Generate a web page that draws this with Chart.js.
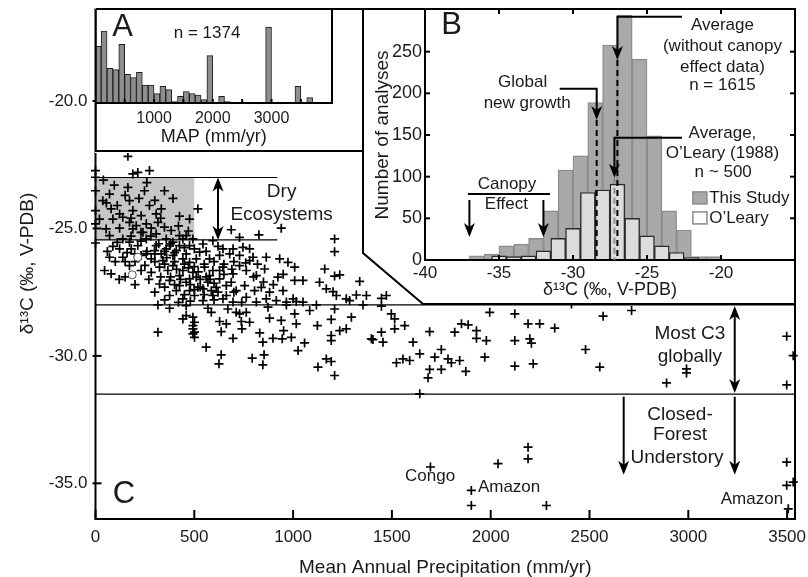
<!DOCTYPE html>
<html>
<head>
<meta charset="utf-8">
<script src="https://cdn.jsdelivr.net/npm/chart.js@4.4.1/dist/chart.umd.min.js"></script>
<style>
  body { margin: 0; background: #fff; }
  #wrap { position: relative; width: 808px; height: 577px; }
  canvas { position: absolute; }
</style>
</head>
<body>
<div id="wrap">
  <canvas id="chartC" width="808" height="577" style="left:0;top:0"></canvas>
  <canvas id="chartA" width="269" height="145" style="left:95px;top:8px"></canvas>
  <canvas id="chartB" width="435" height="298" style="left:362px;top:8px"></canvas>
</div>
<script>
// ---- panel C: sites, [MAP mm/yr, d13C permil] ----
const sitePoints = [
  [164,-22.17],[0,-22.73],[189,-22.86],[214,-22.80],[273,-22.73],[0,-22.99],[0,-23.52],[71,-23.65],[37,-23.91],[164,-23.39],
  [248,-23.52],[349,-23.52],[392,-23.82],[172,-23.91],[220,-23.82],[273,-24.10],[333,-24.23],[518,-24.23],[79,-24.23],[122,-24.43],
  [189,-24.30],[231,-24.50],[307,-24.43],[425,-24.52],[476,-24.63],[0,-24.30],[20,-24.63],[88,-24.63],[138,-24.56],[172,-24.76],
  [206,-24.89],[257,-24.82],[282,-24.99],[316,-24.76],[349,-24.95],[0,-24.82],[54,-25.02],[122,-24.99],[189,-25.02],[240,-25.15],
  [307,-25.21],[383,-25.08],[425,-25.28],[0,-25.57],[71,-25.28],[138,-25.41],[257,-25.41],[358,-25.41],[459,-25.28],[493,-25.41],
  [687,-25.05],[729,-25.35],[827,-25.25],[940,-24.99],[1210,-25.41],[1210,-25.91],[88,-25.70],[172,-25.54],[214,-25.67],[307,-25.67],
  [358,-25.80],[425,-25.67],[476,-25.67],[544,-25.61],[594,-25.48],[645,-25.80],[696,-25.80],[746,-25.74],[780,-25.80],[71,-26.13],
  [138,-26.13],[257,-26.00],[333,-26.00],[392,-26.06],[459,-26.00],[510,-26.19],[577,-26.19],[628,-26.06],[679,-26.00],[729,-26.06],
  [797,-26.13],[864,-26.13],[932,-26.19],[974,-26.33],[1008,-26.52],[1160,-26.59],[1210,-26.87],[1236,-26.82],[1337,-27.08],[46,-26.65],
  [79,-26.78],[172,-26.46],[231,-26.65],[282,-26.72],[324,-26.52],[392,-26.46],[442,-26.65],[493,-26.72],[552,-26.52],[594,-26.65],
  [645,-26.52],[696,-26.78],[763,-26.65],[814,-26.85],[856,-26.59],[923,-26.91],[1008,-27.04],[1050,-27.04],[1134,-27.11],[1168,-27.37],
  [1202,-27.48],[1219,-27.63],[1269,-27.76],[1320,-27.61],[1371,-27.63],[1472,-27.63],[324,-27.18],[375,-27.04],[425,-27.24],[476,-26.98],
  [518,-27.31],[569,-27.11],[611,-27.31],[662,-27.24],[712,-27.44],[755,-27.24],[805,-27.44],[839,-27.31],[881,-27.50],[949,-27.44],
  [1000,-27.76],[1050,-27.89],[375,-27.63],[442,-27.76],[501,-27.63],[544,-27.83],[594,-27.63],[645,-27.76],[696,-27.89],[763,-27.70],
  [814,-27.89],[864,-27.76],[915,-27.83],[966,-27.89],[1016,-27.87],[1286,-27.83],[1447,-27.74],[409,-25.87],[442,-26.19],[476,-26.33],
  [527,-25.93],[425,-26.85],[459,-27.11],[510,-26.91],[544,-27.37],[577,-26.85],[628,-26.98],[662,-27.63],[366,-26.65],[341,-26.26],
  [282,-26.19],[231,-26.06],[181,-25.80],[122,-25.80],[409,-27.44],[476,-27.44],[586,-27.44],[628,-26.65],[687,-27.11],[729,-26.46],
  [780,-26.26],[375,-25.67],[442,-25.41],[392,-25.54],[299,-25.87],[198,-26.00],
  [300,-26.30],[350,-26.40],[400,-26.30],[450,-26.40],[500,-26.50],[550,-26.40],[600,-26.30],[650,-26.40],[330,-26.90],[380,-26.90],
  [430,-27.00],[480,-27.20],[530,-27.00],[580,-27.00],[620,-27.50],[350,-27.30],[400,-27.20],[450,-27.60],[500,-27.40],[550,-27.60],
  [600,-27.80],[700,-27.50],[740,-27.90],[260,-25.90],[300,-26.00],[350,-25.90],[400,-25.95],[450,-25.75],[500,-25.80],[560,-25.90],
  [620,-25.70],[250,-26.45],[200,-26.30],[160,-25.95],[270,-27.00],[300,-27.50],[520,-26.70],[470,-26.55],[410,-26.60],[360,-26.15],
  [320,-25.60],[230,-25.50],[280,-25.30],[180,-25.30],[110,-25.55],[60,-25.90],[100,-26.30],[150,-26.30],[800,-26.90],[850,-27.10],
  [900,-27.20],[950,-26.80],[700,-26.30],[760,-26.35],[820,-26.40],[650,-26.80],[690,-26.60],[560,-26.90],[600,-27.15],[350,-27.80],
  [420,-27.90],[480,-27.85],[530,-27.30],[150,-26.90],[200,-27.20],[120,-27.00],[230,-25.15],[180,-24.60],[110,-24.10],[150,-23.70],
  [300,-23.90],[330,-24.60],[420,-24.90],[380,-25.60],[470,-25.10],[55,-24.00],[95,-23.30],[260,-23.20],[40,-23.10],
  [316,-28.00],[375,-28.13],[459,-28.03],[569,-28.13],[586,-28.29],[670,-28.16],[712,-28.29],[763,-28.29],[873,-28.09],[966,-28.00],
  [1084,-28.22],[1118,-28.00],[1210,-28.16],[1354,-28.00],[1447,-28.05],[442,-28.55],[459,-28.42],[493,-28.48],[501,-28.68],[628,-28.65],
  [662,-28.74],[738,-28.65],[780,-28.68],[729,-28.35],[881,-28.52],[940,-28.61],[1008,-28.35],[1016,-28.74],[1123,-28.81],[1193,-28.57],
  [1295,-28.48],[1497,-28.35],[1514,-28.55],[316,-29.07],[493,-28.94],[493,-29.14],[501,-29.27],[493,-28.81],[501,-29.07],[636,-29.05],
  [696,-29.31],[741,-28.94],[831,-29.10],[847,-29.46],[898,-29.31],[945,-29.33],[952,-29.01],[991,-29.27],[1058,-29.49],[1193,-29.20],
  [1193,-29.40],[1236,-29.01],[1269,-28.94],[1396,-29.33],[1404,-29.36],[1447,-29.07],[1455,-29.46],[1514,-28.94],[1565,-28.81],[1607,-29.46],
  [1691,-29.05],[1818,-29.07],[1852,-28.74],[1886,-28.78],[1928,-29.01],[1928,-29.31],[560,-29.66],[636,-29.96],[625,-30.31],[793,-30.09],
  [853,-29.96],[847,-30.35],[1025,-29.79],[1126,-30.44],[1168,-30.12],[1193,-30.22],[1210,-30.77],[1523,-30.27],[1556,-30.12],[1590,-30.18],
  [1641,-29.92],[1683,-30.86],[1691,-30.53],[1717,-30.05],[1750,-29.75],[1750,-30.53],[1784,-30.12],[1801,-30.27],[1843,-30.18],[1874,-30.61],
  [1641,-31.49],[1695,-34.36],[1902,-35.28],[1902,-35.87],
  [1995,-28.29],[2122,-28.35],[2189,-28.74],[2248,-28.74],[2324,-28.91],[2569,-28.44],[2713,-28.22],[2409,-27.96],[1978,-29.40],[2122,-29.40],
  [2198,-29.33],[2206,-29.50],[1970,-30.05],[2122,-30.40],[2215,-30.31],[2480,-29.75],[2552,-30.44],[2890,-31.06],[2991,-30.51],[2991,-30.67],
  [3498,-29.23],[3531,-29.99],[3498,-31.14],[2037,-34.23],[2189,-33.58],[2189,-34.04],[2282,-35.87],[3498,-34.17],[3498,-35.08],[3531,-34.95],
  [3506,-36.00]
];
const openSites = [[214,-26.13],[186,-26.82]];
const dryBand = [-23, -25.45];
const dryMapMax = 500;
const c3Band = [-28, -31.5];
const mainXTicks = [0, 500, 1000, 1500, 2000, 2500, 3000, 3500];
const mainYTicks = [-35, -30, -25, -20];

// ---- panel A: MAP histogram, 100 mm bins from 0 ----
const mapBinWidth = 100;
const mapCounts = [85,108,52,50,88,43,38,46,27,27,14,25,20,2,10,17,14,12,5,71,0,10,2,0,0,0,0,0,0,114,0,0,0,0,25,0,8];
const aLabelTicks = [1000, 2000, 3000];
const aMarkTicks = [500, 1000, 1500, 2000, 2500, 3000, 3500];

// ---- panel B: d13C histograms ----
const studyBins = [-36.5,-35.5,-34.5,-33.5,-32.5,-31.5,-30.5,-29.5,-28.5,-27.5,-26.5,-25.5,-24.5,-23.5,-22.5,-21.5,-20.5];
const studyCounts = [5,7,17,19,26,59,108,125,189,258,294,241,149,59,36,4,4];
const olearyBins = [-35,-34,-33,-32,-31,-30,-29,-28,-27,-26,-25,-24,-23,-22];
const olearyCounts = [5,4,5,11,26,38,81,84,91,50,29,17,9,3];
const bXTicks = [-40, -35, -30, -25, -20];
const bYTicks = [0, 50, 100, 150, 200, 250];
const avgStudy = -27.0, avgOleary = -27.2, globalNew = -28.4;

const FONT = "'Liberation Sans', Arial, Helvetica, sans-serif";
Chart.defaults.font.family = FONT;
Chart.defaults.color = '#1a1a1a';

function txt(ctx, s, x, y, size, align) {
  ctx.font = size + 'px ' + FONT;
  ctx.textAlign = align || 'center';
  ctx.textBaseline = 'middle';
  ctx.fillStyle = '#1a1a1a';
  ctx.fillText(s, x, y);
}
function line(ctx, pts, w, dash, color) {
  ctx.beginPath();
  ctx.lineWidth = w;
  ctx.strokeStyle = color || '#000';
  ctx.setLineDash(dash || []);
  pts.forEach((p, i) => i ? ctx.lineTo(p[0], p[1]) : ctx.moveTo(p[0], p[1]));
  ctx.stroke();
  ctx.setLineDash([]);
}
// arrow head with its tip at (x, y)
function head(ctx, x, y, up) {
  const s = up ? -1 : 1;
  ctx.beginPath();
  ctx.moveTo(x, y);
  ctx.lineTo(x - 5.5, y - s * 14);
  ctx.lineTo(x, y - s * 10);
  ctx.lineTo(x + 5.5, y - s * 14);
  ctx.closePath();
  ctx.fillStyle = '#000';
  ctx.fill();
}
// keep tick labels from moving the plot edges
const noPadX = s => { s.paddingLeft = 0; s.paddingRight = 0; };
const noPadY = s => { s.paddingTop = 0; s.paddingBottom = 0; };

// ---------- panel C ----------
const decoC = {
  id: 'decoC',
  beforeDatasetsDraw(chart) {
    const {ctx, chartArea: a, scales: {x, y}} = chart;
    ctx.save();
    const x0 = x.getPixelForValue(0), x1 = x.getPixelForValue(dryMapMax), xe = x.getPixelForValue(920);
    const y0 = y.getPixelForValue(dryBand[0]), y1 = y.getPixelForValue(dryBand[1]);
    ctx.fillStyle = '#c6c6c6';
    ctx.fillRect(x0, y0, x1 - x0, y1 - y0);
    line(ctx, [[x0, y0], [xe, y0]], 1.2);
    line(ctx, [[x0, y1], [xe, y1]], 1.2);
    c3Band.forEach(v => {
      const yy = y.getPixelForValue(v);
      line(ctx, [[a.left, yy], [a.right, yy]], 1.2);
    });
    ctx.restore();
  },
  afterDatasetsDraw(chart) {
    const {ctx, chartArea: a, scales: {x, y}} = chart;
    ctx.save();
    // frame and ticks
    line(ctx, [[a.left, a.top], [a.left, a.bottom], [a.right, a.bottom], [a.right, a.top]], 2);
    mainXTicks.forEach(v => {
      const px = x.getPixelForValue(v);
      line(ctx, [[px, a.bottom], [px, a.bottom - 9]], 2);
    });
    mainYTicks.forEach(v => {
      const py = y.getPixelForValue(v);
      line(ctx, [[a.left - 3, py], [a.left + 6, py]], 2);
    });
    // dry ecosystems
    const xd = x.getPixelForValue(620);
    const yd0 = y.getPixelForValue(dryBand[0]), yd1 = y.getPixelForValue(dryBand[1]);
    line(ctx, [[xd, yd0 + 4], [xd, yd1 - 4]], 2);
    head(ctx, xd, yd0, true);
    head(ctx, xd, yd1, false);
    txt(ctx, 'Dry', x.getPixelForValue(942), y.getPixelForValue(-23.56), 19);
    txt(ctx, 'Ecosystems', x.getPixelForValue(942), y.getPixelForValue(-24.46), 19);
    // most C3 globally
    const xc = x.getPixelForValue(3235);
    const yc0 = y.getPixelForValue(c3Band[0]), yc1 = y.getPixelForValue(c3Band[1]);
    line(ctx, [[xc, yc0 + 4], [xc, yc1 - 4]], 2);
    head(ctx, xc, yc0 + 1, true);
    head(ctx, xc, yc1 - 1, false);
    txt(ctx, 'Most C3', x.getPixelForValue(3008), y.getPixelForValue(-29.13), 19);
    txt(ctx, 'globally', x.getPixelForValue(3008), y.getPixelForValue(-30.04), 19);
    // closed-forest understory
    const yf0 = y.getPixelForValue(-31.6), yf1 = y.getPixelForValue(-34.66);
    [2673, 3235].forEach(v => {
      const px = x.getPixelForValue(v);
      line(ctx, [[px, yf0], [px, yf1 - 4]], 2);
      head(ctx, px, yf1, false);
    });
    txt(ctx, 'Closed-', x.getPixelForValue(2958), y.getPixelForValue(-32.31), 19);
    txt(ctx, 'Forest', x.getPixelForValue(2958), y.getPixelForValue(-33.1), 19);
    txt(ctx, 'Understory', x.getPixelForValue(2943), y.getPixelForValue(-34.0), 19);
    txt(ctx, 'Congo', x.getPixelForValue(1693), y.getPixelForValue(-34.74), 17);
    txt(ctx, 'Amazon', x.getPixelForValue(2093), y.getPixelForValue(-35.17), 17);
    txt(ctx, 'Amazon', x.getPixelForValue(3322), y.getPixelForValue(-35.64), 17);
    txt(ctx, 'C', x.getPixelForValue(144), y.getPixelForValue(-35.45), 31);
    ctx.restore();
  }
};

new Chart('chartC', {
  type: 'scatter',
  data: {
    datasets: [
      {
        data: openSites.map(p => ({x: p[0], y: p[1]})),
        pointStyle: 'circle', pointRadius: 4, pointBackgroundColor: '#fff',
        pointBorderColor: '#555', pointBorderWidth: 1, clip: false
      },
      {
        data: sitePoints.map(p => ({x: p[0], y: p[1]})),
        pointStyle: 'cross', pointRadius: 4.5, pointBorderColor: '#000',
        pointBorderWidth: 1.7, clip: false
      }
    ]
  },
  options: {
    responsive: false,
    animation: false,
    layout: {padding: {top: 8, right: 13, left: 0, bottom: 0}},
    plugins: {legend: {display: false}, tooltip: {enabled: false}},
    scales: {
      x: {
        type: 'linear', min: 0, max: 3540,
        grid: {display: false, drawTicks: false}, border: {display: false},
        afterBuildTicks: s => { s.ticks = mainXTicks.map(v => ({value: v})); },
        afterFit: s => { s.height = 58; noPadX(s); },
        ticks: {padding: 8, font: {size: 17}, autoSkip: false, maxRotation: 0, callback: v => String(v)},
        title: {display: true, text: 'Mean Annual Precipitation (mm/yr)', font: {size: 19, lineHeight: 1}, padding: {top: 0, bottom: 0}}
      },
      y: {
        type: 'linear', min: -36.4, max: -16.35,
        grid: {display: false, drawTicks: false}, border: {display: false},
        afterBuildTicks: s => { s.ticks = mainYTicks.map(v => ({value: v})); },
        afterFit: s => { s.width = 95.5; noPadY(s); },
        ticks: {padding: 8, font: {size: 17}, callback: v => v.toFixed(1)},
        title: {display: true, text: 'δ¹³C (‰, V-PDB)', font: {size: 19, lineHeight: 1}, padding: {top: 18, bottom: 0}}
      }
    }
  },
  plugins: [decoC]
});

// ---------- panel A ----------
const decoA = {
  id: 'decoA',
  beforeDraw(chart) {
    const {ctx, width, height} = chart;
    ctx.save();
    ctx.fillStyle = '#fff';
    ctx.fillRect(0, 0, width, height);
    ctx.restore();
  },
  afterDraw(chart) {
    const {ctx, chartArea: a, scales: {x, y}} = chart;
    ctx.save();
    line(ctx, [[0.8, 1], [268, 1], [268, 143], [0.8, 143], [0.8, 1]], 2);
    line(ctx, [[a.right, 1], [a.right, a.bottom], [0.8, a.bottom]], 2);
    aMarkTicks.forEach(v => {
      const px = x.getPixelForValue(v);
      line(ctx, [[px, a.bottom], [px, a.bottom - 4]], 2);
    });
    txt(ctx, 'A', x.getPixelForValue(463), y.getPixelForValue(114), 31);
    txt(ctx, 'n = 1374', x.getPixelForValue(1903), y.getPixelForValue(105), 17);
    ctx.restore();
  }
};

new Chart('chartA', {
  type: 'bar',
  data: {
    datasets: [{
      data: mapCounts.map((c, i) => ({x: (i + 0.5) * mapBinWidth, y: c})).filter(d => d.y > 0),
      backgroundColor: '#8e8e8e', borderColor: '#1e1e1e', borderWidth: 1,
      barPercentage: 1, categoryPercentage: 1
    }]
  },
  options: {
    responsive: false,
    animation: false,
    layout: {padding: {top: 1.7, right: 32, left: 0.3, bottom: 0}},
    plugins: {legend: {display: false}, tooltip: {enabled: false}},
    scales: {
      x: {
        type: 'linear', min: 0, max: 4030, offset: false,
        grid: {display: false, drawTicks: false}, border: {display: false},
        afterBuildTicks: s => { s.ticks = aLabelTicks.map(v => ({value: v})); },
        afterFit: s => { s.height = 50; noPadX(s); },
        ticks: {padding: 6, font: {size: 16}, autoSkip: false, maxRotation: 0, callback: v => String(v)},
        title: {display: true, text: 'MAP (mm/yr)', font: {size: 18, lineHeight: 1}, padding: {top: 0, bottom: 7}}
      },
      y: {display: false, min: 0, max: 140}
    }
  },
  plugins: [decoA]
});

// ---------- panel B ----------
const shapeB = [[1, 1], [433, 1], [433, 296], [61, 296], [1, 245]];
const decoB = {
  id: 'decoB',
  beforeDraw(chart) {
    const {ctx} = chart;
    ctx.save();
    ctx.beginPath();
    shapeB.forEach((p, i) => i ? ctx.lineTo(p[0], p[1]) : ctx.moveTo(p[0], p[1]));
    ctx.closePath();
    ctx.fillStyle = '#fff';
    ctx.fill();
    ctx.restore();
  },
  afterDraw(chart) {
    const {ctx, chartArea: a, scales: {x, y}} = chart;
    const X = v => x.getPixelForValue(v), Y = v => y.getPixelForValue(v);
    ctx.save();
    line(ctx, shapeB.concat([shapeB[0]]), 2);
    line(ctx, [[a.left, a.top], [a.left, a.bottom], [a.right, a.bottom]], 2);
    bXTicks.slice(1).forEach(v => {
      line(ctx, [[X(v), a.bottom], [X(v), a.bottom - 5]], 2);
      line(ctx, [[X(v), 1], [X(v), 6]], 2);
    });
    bYTicks.slice(1).forEach(v => {
      line(ctx, [[a.left, Y(v)], [a.left + 5, Y(v)]], 2);
      line(ctx, [[a.right, Y(v)], [a.right - 5, Y(v)]], 2);
    });
    txt(ctx, 'B', X(-38.2), Y(282), 31);
    // average of this study
    line(ctx, [[X(-22.64), Y(292)], [X(avgStudy), Y(292)], [X(avgStudy), Y(244)]], 2);
    head(ctx, X(avgStudy), Y(240), false);
    line(ctx, [[X(avgStudy), Y(240)], [X(avgStudy), Y(0)]], 2, [6, 4]);
    txt(ctx, 'Average', X(-19.9), Y(282), 17);
    txt(ctx, '(without canopy', X(-19.9), Y(256), 17);
    txt(ctx, 'effect data)', X(-19.9), Y(231), 17);
    txt(ctx, 'n = 1615', X(-19.9), Y(210), 17);
    // global new growth
    line(ctx, [[X(-30.9), Y(205.5)], [X(globalNew), Y(205.5)], [X(globalNew), Y(172)]], 2);
    head(ctx, X(globalNew), Y(168), false);
    line(ctx, [[X(globalNew), Y(168)], [X(globalNew), Y(0)]], 2, [6, 4]);
    txt(ctx, 'Global', X(-33.4), Y(212.7), 17);
    txt(ctx, 'new growth', X(-33.1), Y(187.5), 17);
    // O'Leary average
    line(ctx, [[X(-22.64), Y(146.6)], [X(avgOleary), Y(146.6)], [X(avgOleary), Y(103)]], 2);
    head(ctx, X(avgOleary), Y(98.6), false);
    line(ctx, [[X(avgOleary), Y(98.6)], [X(avgOleary), Y(0)]], 2, [6, 4], '#8a8a8a');
    txt(ctx, 'Average,', X(-19.9), Y(152.6), 17);
    txt(ctx, 'O\u2019Leary (1988)', X(-19.9), Y(128.6), 17);
    txt(ctx, 'n ~ 500', X(-19.85), Y(105.8), 17);
    // canopy effect
    txt(ctx, 'Canopy', X(-34.46), Y(91.3), 17);
    line(ctx, [[X(-37.1), Y(79.3)], [X(-31.55), Y(79.3)]], 2);
    txt(ctx, 'Effect', X(-34.5), Y(67.3), 17);
    [-37, -32].forEach(v => {
      line(ctx, [[X(v), Y(72)], [X(v), Y(31)]], 2);
      head(ctx, X(v), Y(27.6), false);
    });
    // legend
    ctx.fillStyle = '#a8a8a8';
    ctx.fillRect(X(-21.9), Y(81.7), X(-20.95) - X(-21.9), Y(67.3) - Y(81.7));
    ctx.strokeStyle = '#8a8a8a'; ctx.lineWidth = 1.5;
    ctx.strokeRect(X(-21.9), Y(81.7), X(-20.95) - X(-21.9), Y(67.3) - Y(81.7));
    ctx.fillStyle = '#fff';
    ctx.fillRect(X(-21.9), Y(57.7), X(-20.95) - X(-21.9), Y(43.3) - Y(57.7));
    ctx.strokeRect(X(-21.9), Y(57.7), X(-20.95) - X(-21.9), Y(43.3) - Y(57.7));
    txt(ctx, 'This Study', X(-20.8), Y(74.5), 17, 'left');
    txt(ctx, 'O\u2019Leary', X(-20.8), Y(50.5), 17, 'left');
    ctx.restore();
  }
};

new Chart('chartB', {
  type: 'bar',
  data: {
    datasets: [
      {
        label: "O'Leary",
        data: olearyBins.map((b, i) => ({x: b, y: olearyCounts[i]})),
        backgroundColor: '#dcdcdc', borderColor: '#2a2a2a', borderWidth: 1.4,
        grouped: false, barThickness: 14.8
      },
      {
        label: 'This Study',
        data: studyBins.map((b, i) => ({x: b, y: studyCounts[i]})),
        backgroundColor: '#a9a9a9', borderColor: '#8c8c8c', borderWidth: 1.4,
        grouped: false, barThickness: 14.8
      }
    ]
  },
  options: {
    responsive: false,
    animation: false,
    layout: {padding: {top: 2, right: 2, left: 0, bottom: 0}},
    plugins: {legend: {display: false}, tooltip: {enabled: false}},
    scales: {
      x: {
        type: 'linear', min: -40, max: -15, offset: false,
        grid: {display: false, drawTicks: false}, border: {display: false},
        afterBuildTicks: s => { s.ticks = bXTicks.map(v => ({value: v})); },
        afterFit: s => { s.height = 46; noPadX(s); },
        ticks: {padding: 3, font: {size: 17}, autoSkip: false, maxRotation: 0, callback: v => String(v)},
        title: {display: true, text: 'δ¹³C (‰, V-PDB)', font: {size: 18, lineHeight: 1}, padding: {top: 0, bottom: 7}}
      },
      y: {
        type: 'linear', min: 0, max: 300,
        grid: {display: false, drawTicks: false}, border: {display: false},
        afterBuildTicks: s => { s.ticks = bYTicks.map(v => ({value: v})); },
        afterFit: s => { s.width = 63; noPadY(s); },
        ticks: {padding: 3, font: {size: 18}, callback: v => String(v)},
        title: {display: true, text: 'Number of analyses', font: {size: 19, lineHeight: 1}, padding: {top: 11.5, bottom: 0}}
      }
    }
  },
  plugins: [decoB]
});
</script>
</body>
</html>
